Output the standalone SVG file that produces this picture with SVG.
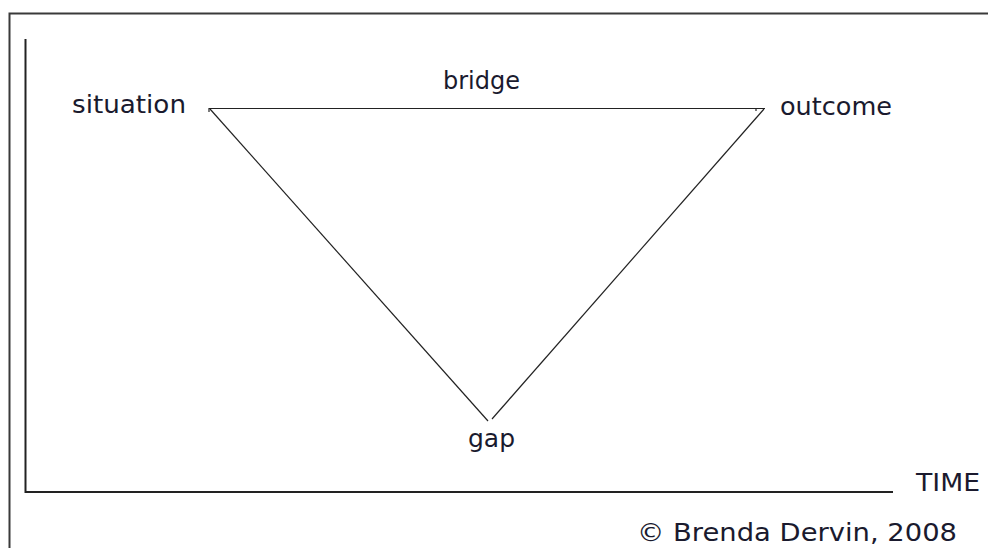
<svg xmlns="http://www.w3.org/2000/svg" width="988" height="548" viewBox="0 0 988 548">
  <style>
    .lbl { font-family: "DejaVu Sans", Verdana, sans-serif; font-size: 25.5px; fill: #1a1a2e; }
    .frame { stroke: #3a3a3a; stroke-width: 2; fill: none; }
    .axis { stroke: #222; stroke-width: 2; fill: none; }
    .edge { stroke: #222; stroke-width: 1.2; fill: none; }
  </style>
  <rect width="988" height="548" fill="#ffffff"/>
  <g id="frame">
    <polyline class="frame" points="9.5,548 9.5,13.5 988,13.5"/>
  </g>
  <g id="axes">
    <polyline class="axis" points="25.5,39 25.5,492 893,492"/>
  </g>
  <g id="connectors">
    <line class="edge" x1="209" y1="108.5" x2="765" y2="108.5"/>
    <line class="edge" x1="210" y1="109" x2="488" y2="421"/>
    <line class="edge" x1="492" y1="419" x2="764" y2="109"/>
    <line class="edge" x1="209" y1="108" x2="209" y2="112"/>
    <line class="edge" x1="756" y1="108" x2="756" y2="111"/>
  </g>
  <g id="situation"><text class="lbl" x="72" y="113" textLength="114" lengthAdjust="spacingAndGlyphs">situation</text></g>
  <g id="bridge"><text class="lbl" x="443" y="89" textLength="77" lengthAdjust="spacingAndGlyphs">bridge</text></g>
  <g id="outcome"><text class="lbl" x="780" y="115" textLength="112" lengthAdjust="spacingAndGlyphs">outcome</text></g>
  <g id="gap"><text class="lbl" x="468" y="447" textLength="47" lengthAdjust="spacingAndGlyphs">gap</text></g>
  <g id="time"><text class="lbl" x="916" y="491" textLength="64" lengthAdjust="spacingAndGlyphs">TIME</text></g>
  <g id="copyright"><text class="lbl" x="637" y="541" textLength="320" lengthAdjust="spacingAndGlyphs">© Brenda Dervin, 2008</text></g>
</svg>
